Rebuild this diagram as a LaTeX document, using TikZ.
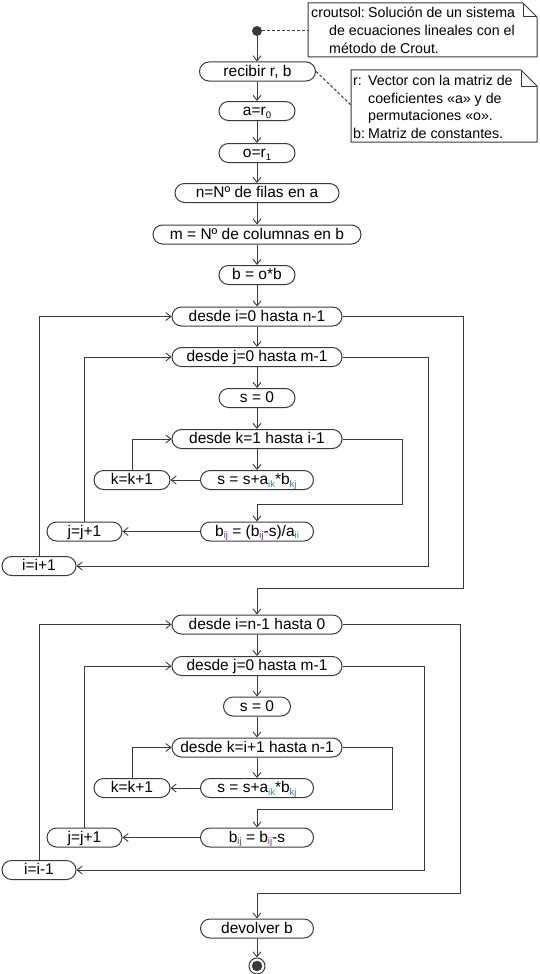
\documentclass[tikz,border=0pt]{standalone}
\usepackage{fontspec}
\setmainfont{Liberation Sans}
\usetikzlibrary{arrows.meta,calc}
\definecolor{ln}{HTML}{3A3A3A}
\definecolor{sik}{HTML}{2E86AB}
\definecolor{skj}{HTML}{3F6FB5}
\definecolor{sij}{HTML}{7B2D8E}
\definecolor{sii}{HTML}{2E8FA5}
\newcommand{\sbs}[2][black]{\raisebox{-2.5pt}{\fontsize{9.5}{9.5}\selectfont\textcolor{#1}{#2}}}
\tikzset{
  pill/.style={draw=ln, line width=1pt, fill=white, rounded corners=9.5pt,
    minimum height=19pt, inner sep=0pt, text height=11.5pt, text depth=2.5pt,
    font=\fontsize{15.5}{17}\selectfont, text=black},
  arr/.style={draw=ln, line width=1pt, -{Straight Barb[length=5pt,width=8pt,line width=0.9pt]}},
  lnst/.style={draw=ln, line width=1pt},
  notebox/.style={draw=ln, line width=1pt, fill=white},
  notetxt/.style={anchor=base west, inner sep=0pt, font=\fontsize{14.2}{17}\selectfont},
  dashln/.style={draw=ln, line width=1pt, dash pattern=on 3pt off 2pt},
}
\begin{document}
\begin{tikzpicture}[x=1pt,y=-1pt]
\useasboundingbox (0,0) rectangle (540,974);

% ---- notes ----
\draw[notebox] (308,3) -- (523,3) -- (537,17) -- (537,57) -- (308,57) -- cycle;
\draw[lnst] (523,3) -- (523,17) -- (537,17);
\node[notetxt] (n1a) at (311,18) {\makebox[57pt][l]{croutsol:}Solución de un sistema};
\node[notetxt] (n1b) at (329,35.5) {de ecuaciones lineales con el};
\node[notetxt] (n1c) at (329,53) {método de Crout.};
\coordinate (n1l) at (308,31);

\draw[notebox] (351,70) -- (521,70) -- (537,86) -- (537,142) -- (351,142) -- cycle;
\draw[lnst] (521,70) -- (521,86) -- (537,86);
\node[notetxt] (n2a) at (353,85) {\makebox[15pt][l]{r:}Vector con la matriz de};
\node[notetxt] (n2b) at (368,103) {coeficientes «a» y de};
\node[notetxt] (n2c) at (368,120.5) {permutaciones «o».};
\node[notetxt] (n2d) at (353,138) {\makebox[15pt][l]{b:}Matriz de constantes.};
\coordinate (n2l) at (351,105);

% ---- first part ----
\node[fill=ln, circle, inner sep=0pt, minimum size=10pt] (start) at (257,31) {};
\node[pill, minimum width=116pt] (rec) at (257.5,71.5) {recibir r, b};
\node[pill, minimum width=76pt] (a0) at (257,111) {a=r\sbs{0}};
\node[pill, minimum width=76pt] (o1) at (257,153) {o=r\sbs{1}};
\node[pill, minimum width=164pt] (nf) at (257,193) {n=Nº de filas en a};
\node[pill, minimum width=208pt] (mc) at (257,234.5) {m = Nº de columnas en b};
\node[pill, minimum width=76pt] (bo) at (257,275) {b = o*b};
\node[pill, minimum width=170pt] (fi) at (257,316.5) {desde i=0 hasta n-1};
\node[pill, minimum width=170pt] (fj) at (257,357) {desde j=0 hasta m-1};
\node[pill, minimum width=76pt] (s0) at (257,398) {s = 0};
\node[pill, minimum width=170pt] (fk) at (257,439) {desde k=1 hasta i-1};
\node[pill, minimum width=113pt] (ss) at (257,480) {s = s+a\sbs[sik]{ik}*b\sbs[skj]{kj}};
\node[pill, minimum width=76pt] (kk) at (132,480) {k=k+1};
\node[pill, minimum width=113pt] (bij) at (257,531.5) {b\sbs[sij]{ij} = (b\sbs[sij]{ij}-s)/a\sbs[sii]{ii}};
\node[pill, minimum width=75pt] (jj) at (84.5,531.5) {j=j+1};
\node[pill, minimum width=74pt] (ii) at (39,566) {i=i+1};

\coordinate (kr1) at (402,504);
\coordinate (jr1) at (428,566);
\coordinate (ir1) at (463,588);

\draw[dashln] (start.east) -- (n1l);
\draw[dashln] (rec.east) -- (n2l);

\draw[arr] (start) -- (start |- rec.north);
\draw[arr] (a0 |- rec.south) -- (a0);
\draw[arr] (a0) -- (o1);
\draw[arr] (o1) -- (nf);
\draw[arr] (nf) -- (mc);
\draw[arr] (mc) -- (bo);
\draw[arr] (bo) -- (fi);
\draw[arr] (fi) -- (fj);
\draw[arr] (fj) -- (s0);
\draw[arr] (s0) -- (fk);
\draw[arr] (fk) -- (ss);
\draw[arr] (ss.west) -- (kk.east);
\draw[arr] (kk.north) |- (fk.west);
\draw[arr] (fk.east) -| (kr1) -| (bij.north);
\draw[arr] (bij.west) -- (jj.east);
\draw[arr] (jj.north) |- (fj.west);
\draw[arr] (fj.east) -| (jr1) -- (ii.east);
\draw[arr] (ii.north) |- (fi.west);

% ---- second part ----
\node[pill, minimum width=170pt] (fi2) at (257,624.5) {desde i=n-1 hasta 0};
\node[pill, minimum width=170pt] (fj2) at (257,666) {desde j=0 hasta m-1};
\node[pill, minimum width=67pt] (s02) at (257,706.5) {s = 0};
\node[pill, minimum width=170pt] (fk2) at (257,747.5) {desde k=i+1 hasta n-1};
\node[pill, minimum width=113pt] (ss2) at (257,788) {s = s+a\sbs[sik]{ik}*b\sbs[skj]{kj}};
\node[pill, minimum width=76pt] (kk2) at (132,788) {k=k+1};
\node[pill, minimum width=113pt] (bij2) at (257,837.5) {b\sbs[sij]{ij} = b\sbs[sij]{ij}-s};
\node[pill, minimum width=75pt] (jj2) at (84.5,837.5) {j=j+1};
\node[pill, minimum width=74pt] (ii2) at (39,870) {i=i-1};
\node[pill, minimum width=113pt] (dev) at (257,928.5) {devolver b};
\node[draw=ln, line width=1pt, circle, inner sep=0pt, minimum size=16pt] (fin) at (257,966) {};
\node[fill=ln, circle, inner sep=0pt, minimum size=10.5pt] (fininner) at (fin.center) {};

\coordinate (kr2) at (392.5,809);
\coordinate (jr2) at (424,870);
\coordinate (ir2) at (460,893);

\draw[arr] (fi.east) -| (ir1) -| (fi2.north);
\draw[arr] (fi2) -- (fj2);
\draw[arr] (fj2) -- (s02);
\draw[arr] (s02) -- (fk2);
\draw[arr] (fk2) -- (ss2);
\draw[arr] (ss2.west) -- (kk2.east);
\draw[arr] (kk2.north) |- (fk2.west);
\draw[arr] (fk2.east) -| (kr2) -| (bij2.north);
\draw[arr] (bij2.west) -- (jj2.east);
\draw[arr] (jj2.north) |- (fj2.west);
\draw[arr] (fj2.east) -| (jr2) -- (ii2.east);
\draw[arr] (ii2.north) |- (fi2.west);
\draw[arr] (fi2.east) -| (ir2) -| (dev.north);
\draw[arr] (dev) -- (fin);
\end{tikzpicture}
\end{document}
